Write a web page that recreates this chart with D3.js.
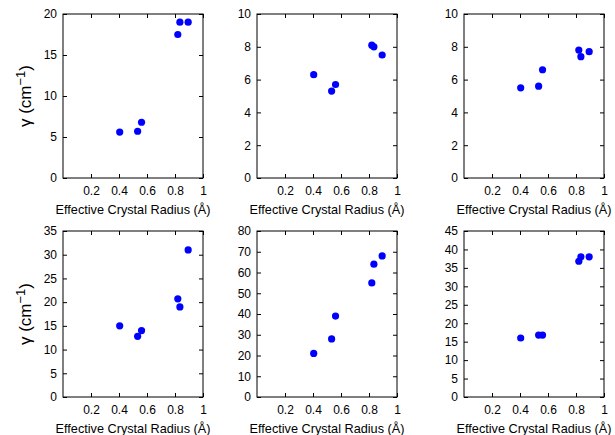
<!DOCTYPE html>
<html>
<head>
<meta charset="utf-8">
<script src="https://cdn.jsdelivr.net/npm/d3@7"></script>
<style>
  body { margin: 0; background: #fff; }
  text { font-family: "Liberation Sans", Arial, sans-serif; }
</style>
</head>
<body>
<svg width="615" height="435"></svg>
<script>
// effective crystal radius (Å), same for every panel
let radius = [0.405, 0.533, 0.561, 0.82, 0.835, 0.894];

// gamma (cm^-1) per panel, row by row
let gammaA = [5.6, 5.7, 6.8, 17.5, 19.0, 19.0];
let gammaB = [6.3, 5.3, 5.7, 8.1, 8.0, 7.5];
let gammaC = [5.5, 5.6, 6.6, 7.8, 7.4, 7.7];
let gammaD = [15.0, 12.8, 14.0, 20.7, 19.0, 31.0];
let gammaE = [21, 28, 39, 55, 64, 68];
let gammaF = [16.0, 16.8, 16.8, 36.8, 38.0, 38.0];

let yMax = [20, 10, 10, 35, 80, 45];
let yStep = [5, 2, 2, 5, 10, 5];
let xTicks = [0.2, 0.4, 0.6, 0.8, 1];

let series = [gammaA, gammaB, gammaC, gammaD, gammaE, gammaF];

let svg = d3.select("svg");
let colLeft = [63, 257, 464];
let rowTop = [14, 231];
let rowBottom = [178, 397];
let plotW = 140;
let tick = 4;

series.forEach((vals, k) => {
  let col = k % 3, row = Math.floor(k / 3);
  let x0 = colLeft[col], y0 = rowTop[row], y1 = rowBottom[row];

  let x = d3.scaleLinear().domain([0, 1]).range([x0, x0 + plotW]);
  let y = d3.scaleLinear().domain([0, yMax[k]]).range([y1, y0]);
  let yTicks = d3.range(0, yMax[k] + 1e-9, yStep[k]);

  let g = svg.append("g");

  // bottom axis with labels, ticks pointing inward
  g.append("g")
    .attr("transform", `translate(0,${y1})`)
    .call(d3.axisBottom(x).tickValues(xTicks).tickSize(-tick).tickSizeOuter(0)
      .tickPadding(8).tickFormat(d3.format("~g")))
    .call(a => a.select(".domain").remove());

  // top axis, ticks only
  g.append("g")
    .attr("transform", `translate(0,${y0})`)
    .call(d3.axisTop(x).tickValues(xTicks).tickSize(-tick).tickSizeOuter(0).tickFormat(""))
    .call(a => a.select(".domain").remove());

  // left axis with labels
  g.append("g")
    .attr("transform", `translate(${x0},0)`)
    .call(d3.axisLeft(y).tickValues(yTicks).tickSize(-tick).tickSizeOuter(0)
      .tickPadding(6).tickFormat(d3.format("d")))
    .call(a => a.select(".domain").remove());

  // right axis, ticks only
  g.append("g")
    .attr("transform", `translate(${x0 + plotW},0)`)
    .call(d3.axisRight(y).tickValues(yTicks).tickSize(-tick).tickSizeOuter(0).tickFormat(""))
    .call(a => a.select(".domain").remove());

  g.selectAll(".tick text").attr("font-size", 12).attr("fill", "#000")
    .style("font-family", '"Liberation Sans", Arial, sans-serif');
  g.selectAll(".tick line").attr("stroke", "#000");

  // frame
  g.append("rect")
    .attr("x", x0).attr("y", y0)
    .attr("width", plotW).attr("height", y1 - y0)
    .attr("fill", "none").attr("stroke", "#000").attr("stroke-width", 1);

  // points
  g.selectAll("circle")
    .data(vals)
    .enter()
    .append("circle")
    .attr("cx", (d, i) => x(radius[i]))
    .attr("cy", d => y(d))
    .attr("r", 3.6)
    .attr("fill", "#0000ff");

  // x label
  g.append("text")
    .attr("x", x0 + plotW / 2)
    .attr("y", y1 + 36)
    .attr("text-anchor", "middle")
    .attr("font-size", 12.7)
    .text("Effective Crystal Radius (Å)");

  // y label on left column
  if (col === 0) {
    let t = g.append("text")
      .attr("transform", `translate(31,${(y0 + y1) / 2}) rotate(-90)`)
      .attr("text-anchor", "middle")
      .attr("font-size", 17);
    t.append("tspan").text("γ (cm");
    t.append("tspan").attr("baseline-shift", "45%").attr("font-size", 13).text("−1");
    t.append("tspan").text(")");
  }
});
</script>
</body>
</html>
